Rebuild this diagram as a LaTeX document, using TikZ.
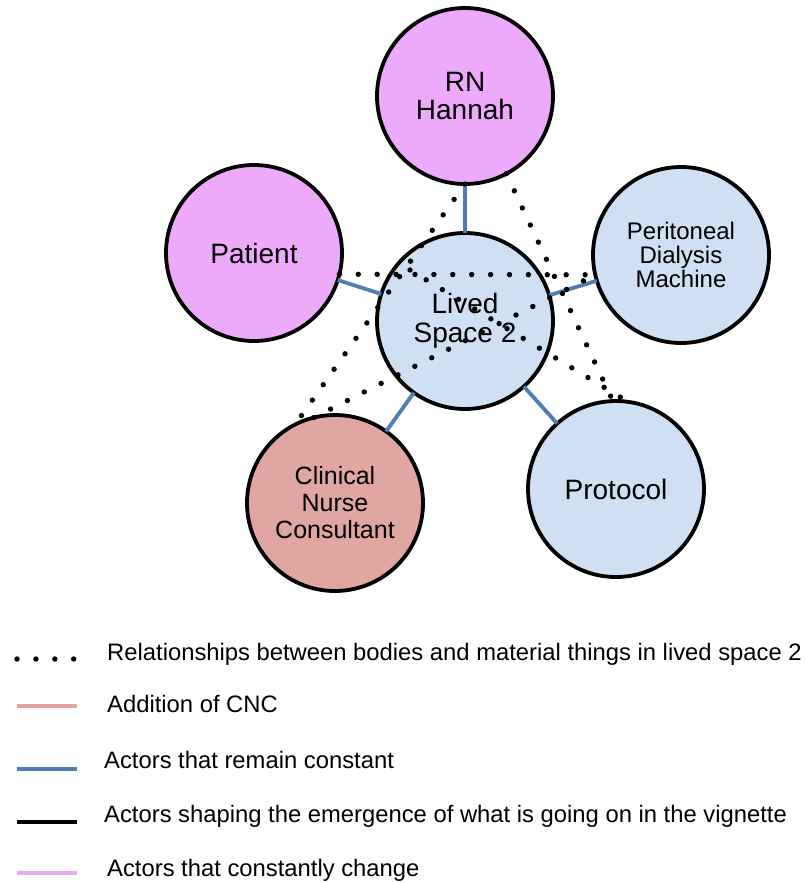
\documentclass[tikz,border=0pt]{standalone}
\usepackage{fontspec}
\setmainfont{Liberation Sans}
\usetikzlibrary{calc}

\definecolor{changefill}{RGB}{238,170,250}
\definecolor{constfill}{RGB}{206,224,242}
\definecolor{cncfill}{RGB}{224,166,162}
\definecolor{constline}{RGB}{79,127,178}
\definecolor{cncline}{RGB}{226,162,162}
\definecolor{changeline}{RGB}{234,170,242}

\tikzset{
  actor/.style={circle, draw=black, line width=3.8pt, minimum size=176pt,
    inner sep=0pt, outer sep=0pt, align=center},
  bigtext/.style={font=\fontsize{28}{28.5}\selectfont},
  link/.style={draw=constline, line width=3.8pt},
  relation/.style={line width=5.4pt, line cap=round, dash pattern=on 0pt off 18.9pt},
  keyline/.style={line width=4.2pt},
  keytext/.style={anchor=base west, inner sep=0pt, font=\fontsize{23.8}{25}\selectfont}
}

\begin{document}
\begin{tikzpicture}[x=1pt, y=-1pt]
  \useasboundingbox[fill=white] (0,0) rectangle (806,883);

  % actors
  \node[actor, fill=changefill, bigtext] (rn) at (465,96) {RN\\Hannah};
  \node[actor, fill=changefill, bigtext] (pat) at (254,253) {Patient};
  \node[actor, fill=constfill, font=\fontsize{24}{24}\selectfont] (pdm) at (681,255)
    {Peritoneal\\Dialysis\\Machine};
  \node[actor, fill=constfill, bigtext] (ls) at (465,321) {Lived\\Space 2};
  \node[actor, fill=cncfill, font=\fontsize{25}{27}\selectfont] (cnc) at (335,503)
    {Clinical\\Nurse\\Consultant};
  \node[actor, fill=constfill, bigtext] (prot) at (616,489) {Protocol};

  % links to the lived space
  \draw[link] (rn) -- (ls);
  \draw[link] (pat) -- (ls);
  \draw[link] (pdm) -- (ls);
  \draw[link] (cnc) -- (ls);
  \draw[link] (prot) -- (ls);

  % relationships between bodies and things
  \coordinate (lsinner) at ($(ls)+(-55,-51)$);
  \draw[relation] (pat.-14.6) -- (pdm.-167);
  \draw[relation] (rn.-90) -- (cnc.117.7);
  \draw[relation] (rn.-62.6) -- (prot.92.6);
  \draw[relation] (cnc.104.6) -- (pdm.-167);
  \draw[relation] (lsinner) -- (prot.82.5);

  % legend
  \coordinate (k1a) at (17,659);  \coordinate (k1b) at (75,659);
  \coordinate (k2a) at (17,706);  \coordinate (k2b) at (77,706);
  \coordinate (k3a) at (17,769);  \coordinate (k3b) at (77,769);
  \coordinate (k4a) at (17,822);  \coordinate (k4b) at (77,822);
  \coordinate (k5a) at (17,873);  \coordinate (k5b) at (77,873);
  \draw[relation] (k1a) -- (k1b);
  \draw[keyline, cncline] (k2a) -- (k2b);
  \draw[keyline, constline] (k3a) -- (k3b);
  \draw[keyline, black] (k4a) -- (k4b);
  \draw[keyline, changeline] (k5a) -- (k5b);

  \node[keytext] (t1) at (107,660) {Relationships between bodies and material things in lived space 2};
  \node[keytext] (t2) at (107,712) {Addition of CNC};
  \node[keytext] (t3) at (104,768) {Actors that remain constant};
  \node[keytext] (t4) at (104,822) {Actors shaping the emergence of what is going on in the vignette};
  \node[keytext] (t5) at (107,876) {Actors that constantly change};
\end{tikzpicture}
\end{document}
